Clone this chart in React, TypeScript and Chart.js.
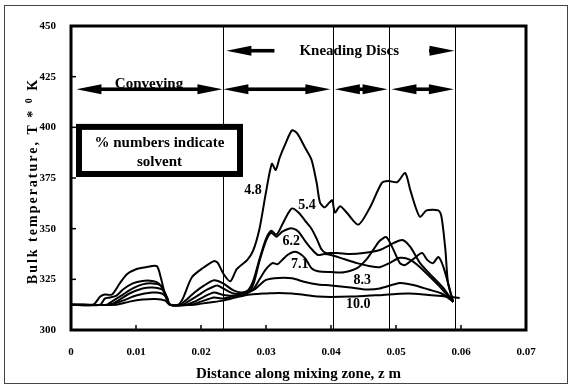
import React, { useEffect, useRef } from "react";
import { Chart, registerables } from "chart.js";

Chart.register(...registerables);

// ---------- data ----------
const solventLabels = ["4.8", "5.4", "6.2", "7.1", "8.3", "10.0"];

const z48 = [0, 0.0034, 0.0045, 0.0052, 0.0063, 0.0075, 0.0086, 0.01, 0.0115, 0.0132, 0.0138, 0.0146, 0.0152, 0.0165, 0.0172, 0.0186, 0.0203, 0.022, 0.0226, 0.0234, 0.0245, 0.0255, 0.0271, 0.028, 0.029, 0.03, 0.0309, 0.0315, 0.0321, 0.033, 0.034, 0.0348, 0.036, 0.037, 0.0378, 0.0383, 0.039, 0.0398, 0.0402, 0.0406, 0.0414, 0.0424, 0.0442, 0.046, 0.0478, 0.0488, 0.0502, 0.0514, 0.0522, 0.053, 0.0537, 0.0547, 0.0565, 0.057, 0.0576, 0.058, 0.0588];
const t48 = [312.5, 312.5, 316.5, 317.5, 317.5, 323, 327.5, 330, 331, 331.5, 326, 316, 312.5, 312.5, 315.5, 326, 330.6, 334, 333, 328, 324, 330, 334.5, 339, 350, 368, 382, 379, 385, 392, 398.5, 397, 390, 384, 372.5, 363, 360.5, 363, 364, 358, 361, 358, 352, 360.5, 372.5, 373.5, 373, 377.5, 369, 360.7, 355.8, 359, 359, 355.8, 339.5, 323.3, 313.8];

const z54 = [0, 0.0045, 0.0052, 0.006, 0.007, 0.008, 0.0095, 0.011, 0.0125, 0.0135, 0.0145, 0.0152, 0.0168, 0.0176, 0.019, 0.0205, 0.022, 0.0234, 0.025, 0.0262, 0.0272, 0.028, 0.029, 0.03, 0.0308, 0.0316, 0.0325, 0.0333, 0.034, 0.035, 0.036, 0.037, 0.0378, 0.0385, 0.0392, 0.04, 0.041, 0.043, 0.045, 0.0475, 0.0497, 0.051, 0.0522, 0.0537, 0.0557, 0.0572, 0.0588];
const t54 = [312.5, 312.5, 315.5, 316, 317, 320, 323, 324.2, 324.2, 323, 318, 312.5, 312.5, 314.5, 318.5, 322, 324.5, 323, 319.5, 318.5, 319.5, 324, 335, 345, 349, 347, 352, 357, 360, 358, 354, 350, 345, 340, 338, 338, 338, 337.5, 338, 339.5, 343, 344.4, 341, 333, 326, 321, 313.8];

const z62 = [0, 0.0055, 0.0065, 0.008, 0.0095, 0.011, 0.0125, 0.0138, 0.0146, 0.0152, 0.0172, 0.018, 0.0195, 0.021, 0.0225, 0.0234, 0.025, 0.0265, 0.0275, 0.0282, 0.029, 0.03, 0.0308, 0.0316, 0.0325, 0.0335, 0.0342, 0.035, 0.036, 0.037, 0.038, 0.039, 0.04, 0.042, 0.044, 0.046, 0.0475, 0.049, 0.0506, 0.0522, 0.0537, 0.0553, 0.057, 0.0588];
const t62 = [312.5, 312.5, 314.5, 317.5, 320.5, 322.5, 323, 322, 317, 312.5, 312.5, 314, 317, 320, 322, 320.5, 318, 318, 319, 324, 334, 344, 348, 346, 348.5, 350, 350, 348.5, 344, 340, 337, 337.5, 337, 335, 333, 331.5, 331, 333, 335.6, 334.6, 331, 326, 320.5, 313.8];

const z71 = [0, 0.006, 0.0075, 0.009, 0.011, 0.0125, 0.014, 0.0148, 0.0152, 0.0178, 0.019, 0.0205, 0.022, 0.0234, 0.026, 0.028, 0.029, 0.03, 0.031, 0.0318, 0.0325, 0.0333, 0.0342, 0.035, 0.036, 0.037, 0.038, 0.04, 0.042, 0.044, 0.0455, 0.0465, 0.0475, 0.0485, 0.0494, 0.0506, 0.0514, 0.0525, 0.054, 0.0548, 0.0557, 0.0565, 0.0573, 0.0588];
const t71 = [312.5, 312.5, 315, 318, 320.5, 321, 320, 316, 312.5, 312.5, 314, 316.5, 318.5, 317.3, 317, 320, 325, 330, 333, 332.5, 334.6, 337, 338.5, 338, 335.5, 330.5, 329, 328.6, 328.5, 330.5, 335, 339.5, 344, 345.8, 341, 333, 332, 334.6, 338, 334.6, 333, 336, 331, 313.8];

const z83 = [0, 0.006, 0.008, 0.01, 0.0125, 0.014, 0.0148, 0.0152, 0.0185, 0.02, 0.022, 0.0234, 0.026, 0.0281, 0.03, 0.032, 0.034, 0.036, 0.038, 0.04, 0.043, 0.0455, 0.0475, 0.0506, 0.0525, 0.055, 0.057, 0.0588];
const t83 = [312.5, 312.5, 314.5, 317, 318.5, 318, 315.5, 312.5, 312.5, 314, 316, 315.5, 317.5, 319.8, 324.7, 325.7, 325.5, 323.7, 322.5, 322, 321, 320, 320.5, 323.2, 322.3, 320, 318, 314];

const z100 = [0, 0.007, 0.009, 0.011, 0.013, 0.0145, 0.0152, 0.019, 0.021, 0.0234, 0.0253, 0.027, 0.0287, 0.03, 0.032, 0.034, 0.036, 0.038, 0.04, 0.043, 0.046, 0.048, 0.05, 0.052, 0.055, 0.057, 0.0585, 0.0598];
const t100 = [312.5, 312.5, 314, 315, 315.3, 314.5, 312.5, 312.5, 313.5, 314.5, 316, 317.3, 317.8, 318, 318.3, 318, 317.3, 316.5, 316.3, 316.5, 317, 317.3, 317.8, 318, 317.3, 316.8, 316.3, 315.8];

const seriesZ = [z48, z54, z62, z71, z83, z100];
const seriesT = [t48, t54, t62, t71, t83, t100];

// curve label anchors (data units)
const labelZ = [0.028, 0.0363, 0.0339, 0.0352, 0.0448, 0.0442];
const labelT = [369, 361.7, 343.9, 332.6, 324.7, 312.4];

// zone boundaries (m)
const zoneBounds = [0.02333, 0.0403, 0.04896, 0.05908];

const X_MIN = 0;
const X_MAX = 0.07;
const X_STEP = 0.01;
const Y_MIN = 300;
const Y_MAX = 450;
const Y_STEP = 25;

const xTitle = "Distance along mixing zone, z m";
const noteLines = ["% numbers indicate", "solvent"];

const SERIF = "'Liberation Serif', 'Times New Roman', serif";

function fmtX(v: number) {
  const r = Math.round(v * 100) / 100;
  return r === 0 ? "0" : r.toFixed(2);
}

function drawArrow(ctx: CanvasRenderingContext2D, xa: number, xb: number, y: number, lh: boolean, rh: boolean) {
  const hl = 25, hh = 5, sh = 1.8;
  const s1 = lh ? xa + hl - 1 : xa;
  const s2 = rh ? xb - hl + 1 : xb;
  if (s2 > s1) ctx.fillRect(s1, y - sh, s2 - s1, sh * 2);
  if (lh) {
    ctx.beginPath();
    ctx.moveTo(xa, y);
    ctx.lineTo(xa + hl, y - hh);
    ctx.lineTo(xa + hl, y + hh);
    ctx.closePath();
    ctx.fill();
  }
  if (rh) {
    ctx.beginPath();
    ctx.moveTo(xb, y);
    ctx.lineTo(xb - hl, y - hh);
    ctx.lineTo(xb - hl, y + hh);
    ctx.closePath();
    ctx.fill();
  }
}

const annotate = {
  id: "annotate",
  beforeDatasetsDraw(chart: any) {
    const { ctx, chartArea: a, scales } = chart;
    const x = scales.x, y = scales.y;
    ctx.save();
    ctx.strokeStyle = "#000";
    ctx.lineWidth = 1;
    for (const zb of zoneBounds) {
      const px = Math.round(x.getPixelForValue(zb)) + 0.5;
      ctx.beginPath();
      ctx.moveTo(px, a.top);
      ctx.lineTo(px, a.bottom);
      ctx.stroke();
    }
    // curve labels
    ctx.fillStyle = "#000";
    ctx.font = `bold 14px ${SERIF}`;
    ctx.textAlign = "center";
    ctx.textBaseline = "middle";
    solventLabels.forEach((s, i) => {
      ctx.fillText(s, x.getPixelForValue(labelZ[i]), y.getPixelForValue(labelT[i]));
    });
    ctx.restore();
  },
  afterDatasetsDraw(chart: any) {
    const { ctx, scales } = chart;
    const x = scales.x, y = scales.y;
    ctx.save();
    ctx.fillStyle = "#000";
    // note box
    const bx1 = x.getPixelForValue(0.00077), bx2 = x.getPixelForValue(0.02646);
    const by1 = y.getPixelForValue(401.7), by2 = y.getPixelForValue(375.5);
    ctx.fillRect(bx1, by1, bx2 - bx1, by2 - by1);
    ctx.fillStyle = "#fff";
    ctx.fillRect(bx1 + 6, by1 + 6, bx2 - bx1 - 12, by2 - by1 - 12);
    ctx.fillStyle = "#000";
    ctx.font = `bold 15px ${SERIF}`;
    ctx.textAlign = "center";
    ctx.textBaseline = "middle";
    const cx = (bx1 + bx2) / 2;
    ctx.fillText(noteLines[0], cx, by1 + 19);
    ctx.fillText(noteLines[1], cx, by1 + 38);

    // zone texts
    ctx.fillText("Conveying", x.getPixelForValue(0.012), y.getPixelForValue(421.3));
    ctx.fillText("Kneading Discs", x.getPixelForValue(0.0428), y.getPixelForValue(437.8));

    // arrows
    const ay = y.getPixelForValue(418.8);
    const ky = y.getPixelForValue(437.8);
    const px = (v: number) => x.getPixelForValue(v);
    drawArrow(ctx, px(0.00084), px(0.0233), ay, true, true);
    drawArrow(ctx, px(0.02344), px(0.0399), ay, true, true);
    drawArrow(ctx, px(0.0406), px(0.0487), ay, true, true);
    drawArrow(ctx, px(0.0493), px(0.0589), ay, true, true);
    drawArrow(ctx, px(0.0239), px(0.0313), ky, true, false);
    drawArrow(ctx, px(0.0551), px(0.059), ky, false, true);
    ctx.restore();
  },
  afterDraw(chart: any) {
    const { ctx, chartArea: a, scales } = chart;
    const x = scales.x, y = scales.y;
    ctx.save();
    // outer frame
    ctx.strokeStyle = "#444";
    ctx.lineWidth = 1;
    ctx.strokeRect(4.5, 5.5, 563, 378);
    // plot box
    ctx.strokeStyle = "#000";
    ctx.lineWidth = 3;
    ctx.strokeRect(a.left, a.top, a.right - a.left, a.bottom - a.top);
    // inside ticks
    ctx.lineWidth = 1.5;
    for (const t of x.ticks) {
      const p = x.getPixelForValue(t.value);
      if (p <= a.left + 2 || p >= a.right - 2) continue;
      ctx.beginPath();
      ctx.moveTo(p, a.bottom);
      ctx.lineTo(p, a.bottom - 5);
      ctx.stroke();
    }
    for (const t of y.ticks) {
      const p = y.getPixelForValue(t.value);
      if (p <= a.top + 2 || p >= a.bottom - 2) continue;
      ctx.beginPath();
      ctx.moveTo(a.left, p);
      ctx.lineTo(a.left + 5, p);
      ctx.stroke();
    }
    // x title
    ctx.fillStyle = "#000";
    ctx.font = `bold 15px ${SERIF}`;
    ctx.textAlign = "center";
    ctx.textBaseline = "middle";
    ctx.fillText(xTitle, (a.left + a.right) / 2, 374);

    // y title with letter spacing and superscript 0
    ctx.translate(33, 181);
    ctx.rotate(-Math.PI / 2);
    (ctx as any).letterSpacing = "2px";
    ctx.textAlign = "left";
    const f1 = `bold 14px ${SERIF}`;
    const f2 = `bold 10px ${SERIF}`;
    const p1 = "Bulk temperature, T * ";
    const p2 = "0";
    const p3 = " K";
    ctx.font = f1;
    const w1 = ctx.measureText(p1).width;
    const w3 = ctx.measureText(p3).width;
    ctx.font = f2;
    const w2 = ctx.measureText(p2).width;
    let sx = -(w1 + w2 + w3) / 2;
    ctx.font = f1;
    ctx.fillText(p1, sx, 0);
    sx += w1;
    ctx.font = f2;
    ctx.fillText(p2, sx, -4);
    sx += w2;
    ctx.font = f1;
    ctx.fillText(p3, sx, 0);
    ctx.restore();
  },
};

export default function App() {
  const ref = useRef<HTMLCanvasElement | null>(null);
  useEffect(() => {
    if (!ref.current) return;
    const datasets = seriesZ.map((zs, i) => ({
      label: solventLabels[i],
      data: zs.map((z, j) => ({ x: z, y: seriesT[i][j] })),
      borderColor: "#000",
      borderWidth: 2,
      pointRadius: 0,
      tension: 0.25,
      fill: false,
    }));
    const chart = new Chart(ref.current, {
      type: "line",
      data: { datasets },
      options: {
        animation: false,
        responsive: false,
        devicePixelRatio: 1,
        layout: { padding: { top: 26, right: 44, left: 0, bottom: 0 } },
        plugins: { legend: { display: false }, tooltip: { enabled: false } },
        scales: {
          x: {
            type: "linear",
            min: X_MIN,
            max: X_MAX,
            afterFit: (s: any) => { s.height = 58; },
            grid: { display: false, drawTicks: false },
            border: { display: false },
            ticks: {
              stepSize: X_STEP,
              padding: 16,
              color: "#000",
              autoSkip: false,
              maxRotation: 0,
              font: { family: SERIF, weight: "bold", size: 11 },
              callback: (v: any) => fmtX(Number(v)),
            },
          },
          y: {
            type: "linear",
            min: Y_MIN,
            max: Y_MAX,
            afterFit: (s: any) => { s.width = 71; },
            grid: { display: false, drawTicks: false },
            border: { display: false },
            ticks: {
              stepSize: Y_STEP,
              padding: 15,
              color: "#000",
              font: { family: SERIF, weight: "bold", size: 11 },
            },
          },
        },
      },
      plugins: [annotate],
    } as any);
    return () => chart.destroy();
  }, []);
  return (
    <div style={{ position: "fixed", left: 0, top: 0, width: 570, height: 388, background: "#fff" }}>
      <canvas ref={ref} width={570} height={388} style={{ display: "block" }} />
    </div>
  );
}
